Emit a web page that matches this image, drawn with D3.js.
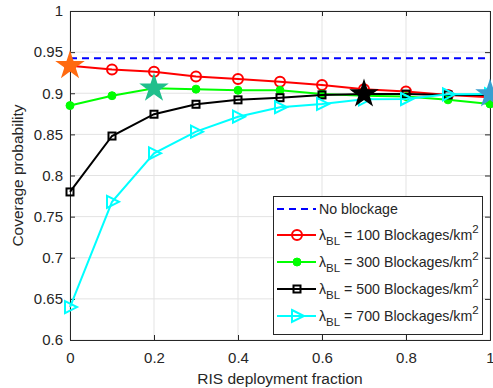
<!DOCTYPE html>
<html>
<head>
<meta charset="utf-8">
<script src="https://cdn.jsdelivr.net/npm/d3@7"></script>
<style>
  body { margin: 0; background: #fff; }
  text { font-family: "Liberation Sans", Arial, sans-serif; fill: #262626; }
</style>
</head>
<body>
<div id="chart"></div>
<script>
const fractions = [0, 0.1, 0.2, 0.3, 0.4, 0.5, 0.6, 0.7, 0.8, 0.9, 1];
const noBlockage = 0.9425;
const bl100 = [0.9335, 0.929, 0.926, 0.9205, 0.9172, 0.914, 0.910, 0.905, 0.902, 0.898, 0.895];
const bl300 = [0.885, 0.897, 0.906, 0.905, 0.9036, 0.9035, 0.899, 0.897, 0.896, 0.892, 0.887];
const bl500 = [0.780, 0.848, 0.8745, 0.8866, 0.892, 0.8946, 0.898, 0.899, 0.899, 0.898, 0.898];
const bl700 = [0.640, 0.768, 0.827, 0.8533, 0.8715, 0.883, 0.887, 0.8926, 0.893, 0.8987, 0.899];
const xTicks = [0, 0.2, 0.4, 0.6, 0.8, 1];
const yTicks = [0.6, 0.65, 0.7, 0.75, 0.8, 0.85, 0.9, 0.95, 1];
const legendLabels = ["No blockage", "100", "300", "500", "700"];
// stars highlighting the best point of each curve
const stars = [
  { x: 0, y: bl100[0], color: "#ff6a10" },
  { x: 0.2, y: bl300[2], color: "#20bf8c" },
  { x: 0.7, y: bl500[7], color: "#000000" },
  { x: 1, y: bl700[10], color: "#3a9fd0" }
];

const width = 493, height = 388;
const margin = { top: 11, right: 3, bottom: 48, left: 70 };

const svg = d3.select("#chart").append("svg")
  .attr("width", width)
  .attr("height", height);

const x = d3.scaleLinear().domain([0, 1]).range([margin.left, width - margin.right]);
const y = d3.scaleLinear().domain([0.6, 1]).range([height - margin.bottom, margin.top]);

// grid
svg.append("g").selectAll("line.gx").data(xTicks).join("line")
  .attr("x1", d => x(d)).attr("x2", d => x(d))
  .attr("y1", y(0.6)).attr("y2", y(1))
  .attr("stroke", "#e3e3e3").attr("stroke-width", 1);
svg.append("g").selectAll("line.gy").data(yTicks).join("line")
  .attr("x1", x(0)).attr("x2", x(1))
  .attr("y1", d => y(d)).attr("y2", d => y(d))
  .attr("stroke", "#e3e3e3").attr("stroke-width", 1);

// axes
const xAxis = svg.append("g")
  .attr("transform", `translate(0,${y(0.6)})`)
  .call(d3.axisBottom(x).tickValues(xTicks).tickSize(-5).tickPadding(12).tickFormat(d3.format("")));
const yAxis = svg.append("g")
  .attr("transform", `translate(${x(0)},0)`)
  .call(d3.axisLeft(y).tickValues(yTicks).tickSize(-5).tickPadding(7).tickFormat(d3.format("")));
const xTop = svg.append("g")
  .attr("transform", `translate(0,${y(1)})`)
  .call(d3.axisTop(x).tickValues(xTicks).tickSize(-5).tickFormat(""));
const yRight = svg.append("g")
  .attr("transform", `translate(${x(1)},0)`)
  .call(d3.axisRight(y).tickValues(yTicks).tickSize(-5).tickFormat(""));
[xAxis, yAxis, xTop, yRight].forEach(g => {
  g.select(".domain").attr("stroke", "#262626").attr("stroke-width", 1);
  g.selectAll(".tick line").attr("stroke", "#262626");
  g.selectAll(".tick text").attr("font-size", 15).attr("fill", "#262626")
    .attr("font-family", "Liberation Sans, Arial, sans-serif");
});

svg.append("text")
  .attr("x", x(0.5)).attr("y", 384)
  .attr("text-anchor", "middle").attr("font-size", 15.5)
  .text("RIS deployment fraction");
svg.append("text")
  .attr("transform", `translate(23,${(y(0.6) + y(1)) / 2}) rotate(-90)`)
  .attr("text-anchor", "middle").attr("font-size", 15.5)
  .text("Coverage probability");

const line = d3.line().x((d, i) => x(fractions[i])).y(d => y(d));

// no blockage line
svg.append("line")
  .attr("x1", x(0)).attr("x2", x(1))
  .attr("y1", y(noBlockage)).attr("y2", y(noBlockage))
  .attr("stroke", "#0000ff").attr("stroke-width", 2).attr("stroke-dasharray", "7,5");

const series = [
  { data: bl100, color: "#ff0000", marker: "circle" },
  { data: bl300, color: "#00ff00", marker: "dot" },
  { data: bl500, color: "#000000", marker: "square" },
  { data: bl700, color: "#00ffff", marker: "triangle" }
];

function drawMarker(g, type, color, cx, cy) {
  if (type === "circle") {
    g.append("circle").attr("cx", cx).attr("cy", cy).attr("r", 5)
      .attr("fill", "none").attr("stroke", color).attr("stroke-width", 2);
  } else if (type === "dot") {
    g.append("circle").attr("cx", cx).attr("cy", cy).attr("r", 4)
      .attr("fill", color).attr("stroke", color);
  } else if (type === "square") {
    g.append("rect").attr("x", cx - 3.5).attr("y", cy - 3.5).attr("width", 7).attr("height", 7)
      .attr("fill", "none").attr("stroke", color).attr("stroke-width", 2);
  } else if (type === "triangle") {
    g.append("path")
      .attr("d", `M${cx - 5},${cy - 6}L${cx + 7},${cy}L${cx - 5},${cy + 6}Z`)
      .attr("fill", "none").attr("stroke", color).attr("stroke-width", 2);
  }
}

series.forEach(s => {
  svg.append("path").datum(s.data)
    .attr("d", line).attr("fill", "none")
    .attr("stroke", s.color).attr("stroke-width", 2);
  const g = svg.append("g");
  s.data.forEach((v, i) => drawMarker(g, s.marker, s.color, x(fractions[i]), y(v)));
});

// stars
const star = d3.symbol().type(d3.symbolStar).size(270);
svg.append("g").selectAll("path").data(stars).join("path")
  .attr("transform", d => `translate(${x(d.x)},${y(d.y)})`)
  .attr("d", star)
  .attr("fill", d => d.color);

// legend
const lg = svg.append("g");
lg.append("rect")
  .attr("x", 273.5).attr("y", 196.5).attr("width", 209).attr("height", 138)
  .attr("fill", "#fff").attr("stroke", "#262626").attr("stroke-width", 1);
const rowY = [209, 235, 262, 289, 316];
const legendItems = [
  { color: "#0000ff", dash: "7,5", marker: null },
  ...series
];
legendItems.forEach((it, i) => {
  const yy = rowY[i];
  lg.append("line").attr("x1", 277).attr("x2", 316).attr("y1", yy).attr("y2", yy)
    .attr("stroke", it.color).attr("stroke-width", 2)
    .attr("stroke-dasharray", it.dash || null);
  if (it.marker) drawMarker(lg, it.marker, it.color, 297, yy);
  const t = lg.append("text").attr("x", 319).attr("y", yy + 5).attr("font-size", 14.2).attr("fill", "#000");
  if (i === 0) {
    t.text(legendLabels[0]);
  } else {
    t.append("tspan").text("\u03bb");
    t.append("tspan").attr("font-size", 11.5).attr("dy", 5).text("BL");
    t.append("tspan").attr("dy", -5).text(` = ${legendLabels[i]} Blockages/km`);
    t.append("tspan").attr("font-size", 11.5).attr("dy", -7).text("2");
  }
});
</script>
</body>
</html>
